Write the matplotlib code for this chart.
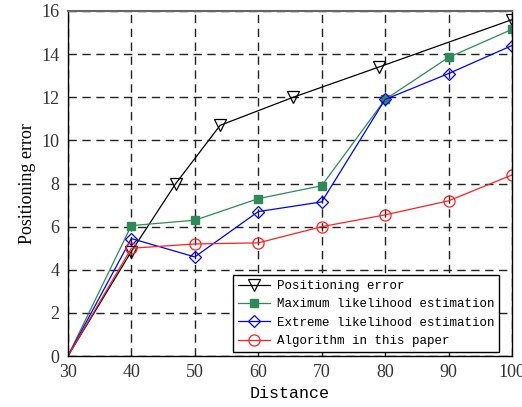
import matplotlib
matplotlib.use("Agg")
import matplotlib.pyplot as plt

# Data
pos_x = [30, 40, 47, 54, 65.5, 79, 100]
pos_y = [0, 4.85, 8.0, 10.7, 12.0, 13.4, 15.6]

dist = [30, 40, 50, 60, 70, 80, 90, 100]
mle = [0, 6.05, 6.3, 7.3, 7.9, 11.9, 13.85, 15.15]
ele = [0, 5.45, 4.6, 6.7, 7.15, 11.9, 13.1, 14.4]
ours = [0, 5.0, 5.2, 5.25, 6.0, 6.55, 7.2, 8.4]

xticks = [30, 40, 50, 60, 70, 80, 90, 100]
yticks = [0, 2, 4, 6, 8, 10, 12, 14, 16]

fig = plt.figure(figsize=(5.22, 4.07), dpi=100)
ax = fig.add_axes([0.130, 0.125, 0.851, 0.848])

ax.plot(pos_x, pos_y, color="black", lw=0.9, marker="v", ms=8, mfc="none",
        mec="black", mew=0.9, markevery=slice(1, None), label="Positioning error")
ax.plot(dist, mle, color="#2e8b57", lw=0.9, marker="s", ms=6, mfc="#2e8b57",
        mec="#2e8b57", markevery=slice(1, None), label="Maximum likelihood estimation")
ax.plot(dist, ele, color="#0000ff", lw=0.9, marker="D", ms=6, mfc="none",
        mec="#0000ff", mew=0.9, markevery=slice(1, None), label="Extreme likelihood estimation")
ax.plot(dist, ours, color="#ff2020", lw=0.9, marker="o", ms=8, mfc="none",
        mec="#ff2020", mew=0.9, markevery=slice(1, None), label="Algorithm in this paper")

ax.set_xlim(30, 100)
ax.set_ylim(0, 16)
ax.set_xticks(xticks)
ax.set_yticks(yticks)
ax.set_xticklabels([str(v) for v in xticks], family="Liberation Serif", fontsize=13, color="#333333")
ax.set_yticklabels([str(v) for v in yticks], family="Liberation Serif", fontsize=13, color="#333333")
ax.tick_params(length=0, pad=6)
ax.grid(True, color="#222222", linestyle=(0, (6, 4)), lw=1.0)

for s in ["left", "bottom", "right"]:
    ax.spines[s].set_color("black")
    ax.spines[s].set_linewidth(1.0)
ax.spines["top"].set_color("#666666")
ax.spines["top"].set_linewidth(1.5)

ax.set_xlabel("Distance", family="Liberation Mono", fontsize=12, labelpad=3)
ax.set_ylabel("Positioning error", family="Liberation Serif", fontsize=13, labelpad=4)

leg = ax.legend(loc="lower right", bbox_to_anchor=(0.971, 0.012),
                prop={"family": "Liberation Mono", "size": 9},
                frameon=True, fancybox=False, edgecolor="black", framealpha=1,
                borderaxespad=0.0, handlelength=2.6, labelspacing=0.5,
                borderpad=0.4, handletextpad=0.5)
leg.get_frame().set_linewidth(1.0)

fig.savefig("out.png", dpi=100)
